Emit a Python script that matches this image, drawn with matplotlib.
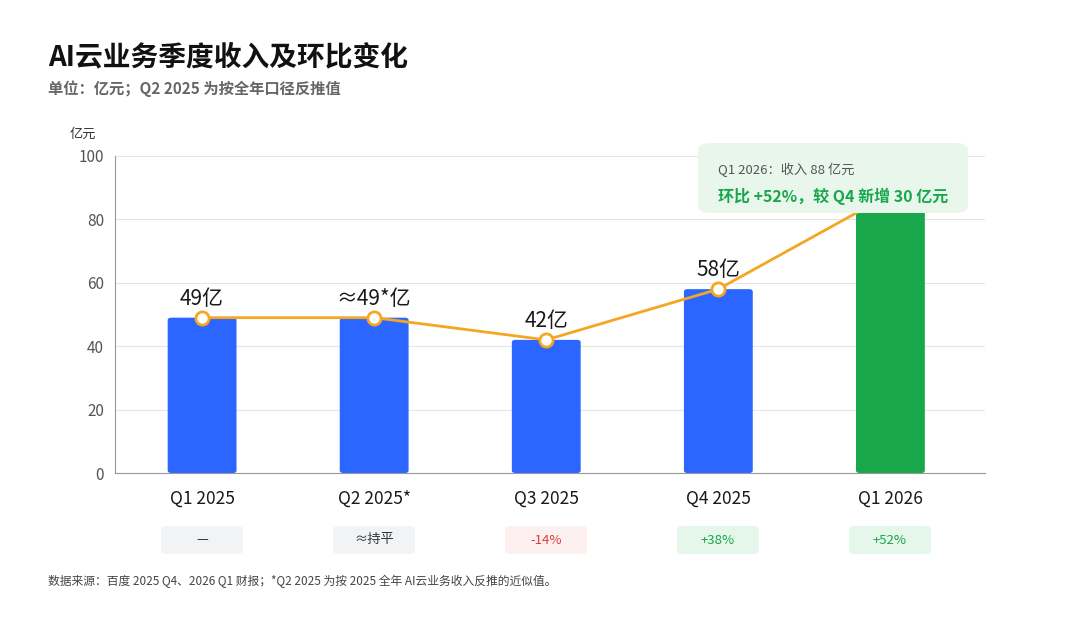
import matplotlib
matplotlib.use("Agg")
import matplotlib.pyplot as plt
from matplotlib.patches import FancyBboxPatch

plt.rcParams['font.family'] = ['Noto Sans CJK SC', 'DejaVu Sans']

# data
quarters = ["Q1 2025", "Q2 2025*", "Q3 2025", "Q4 2025", "Q1 2026"]
revenue = [49, 49, 42, 58, 88]
value_labels = ["49亿", "≈49*亿", "42亿", "58亿", ""]
qoq_labels = ["—", "≈持平", "-14%", "+38%", "+52%"]
qoq_kind = ["flat", "flat", "down", "up", "up"]

BLUE = "#2A66FF"
GREEN = "#18A74B"
ORANGE = "#F5A623"
pill_bg = {"flat": "#F1F3F5", "down": "#FBEFEF", "up": "#E5F6EA"}
pill_fg = {"flat": "#333333", "down": "#D9423A", "up": "#18A74B"}

fig = plt.figure(figsize=(10.8, 6.21), dpi=100)
ax = fig.add_axes([0.1065, 0.2383, 0.8056, 0.5105])
x = list(range(len(quarters)))
colors = [BLUE] * 4 + [GREEN]

for xi, v, c in zip(x, revenue, colors):
    ax.add_patch(FancyBboxPatch((xi - 0.2, 0), 0.4, v,
                                boxstyle="round,pad=0,rounding_size=0.02",
                                mutation_aspect=40, fc=c, ec="none", zorder=2))

ax.plot(x, revenue, color=ORANGE, lw=2, zorder=3)
ax.scatter(x[:4], revenue[:4], s=90, facecolor="white", edgecolor=ORANGE,
           linewidth=2, zorder=4)
for xi, v, t in zip(x, revenue, value_labels):
    if t:
        ax.text(xi, v + 2.5, t, ha="center", va="bottom", fontsize=15,
                color="#1a1a1a", zorder=5)

ax.set_xlim(-0.506, 4.55)
ax.set_ylim(0, 100)
ax.set_yticks(range(0, 101, 20))
ax.set_xticks(x)
ax.set_xticklabels(quarters, fontsize=12.5, color="#1a1a1a")
ax.tick_params(axis="y", labelsize=11, colors="#555555", length=0, pad=8)
ax.tick_params(axis="x", length=0, pad=12)
ax.grid(axis="y", color="#E6E6E6", lw=0.8, zorder=0)
ax.set_axisbelow(True)
for s in ["top", "right"]:
    ax.spines[s].set_visible(False)
ax.spines["left"].set_color("#999999")
ax.spines["bottom"].set_color("#999999")

# annotation box
box = FancyBboxPatch((698 / 1080, 1 - 213 / 621), 270 / 1080, 70 / 621,
                     boxstyle="round,pad=0,rounding_size=0.012",
                     transform=fig.transFigure, fc="#E8F6EC", ec="none", zorder=10)
fig.patches.append(box)
fig.text(718 / 1080, 1 - 170 / 621, "Q1 2026：收入 88 亿元", fontsize=9.5,
         color="#555555", va="center", zorder=11)
fig.text(718 / 1080, 1 - 196 / 621, "环比 +52%，较 Q4 新增 30 亿元", fontsize=11.5,
         color=GREEN, weight="bold", va="center", zorder=11)

# pills
for xi, t, k in zip(x, qoq_labels, qoq_kind):
    cx = (202 + 172 * xi) / 1080
    fig.patches.append(FancyBboxPatch((cx - 41 / 1080, 1 - 554 / 621), 82 / 1080, 28 / 621,
                                      boxstyle="round,pad=0,rounding_size=0.006",
                                      transform=fig.transFigure, fc=pill_bg[k], ec="none"))
    fig.text(cx, 1 - 540 / 621, t, ha="center", va="center", fontsize=9.5, color=pill_fg[k])

fig.text(48 / 1080, 1 - 57 / 621, "AI云业务季度收入及环比变化", fontsize=20,
         weight="bold", color="#111111", va="center")
fig.text(48 / 1080, 1 - 89 / 621, "单位：亿元；Q2 2025 为按全年口径反推值", fontsize=11,
         weight="bold", color="#666666", va="center")
fig.text(70 / 1080, 1 - 134 / 621, "亿元", fontsize=9.5, color="#333333", va="center")
fig.text(48 / 1080, 1 - 581 / 621,
         "数据来源：百度 2025 Q4、2026 Q1 财报；*Q2 2025 为按 2025 全年 AI云业务收入反推的近似值。",
         fontsize=8.5, color="#444444", va="center")

fig.savefig("out.png", dpi=100, facecolor="white")
